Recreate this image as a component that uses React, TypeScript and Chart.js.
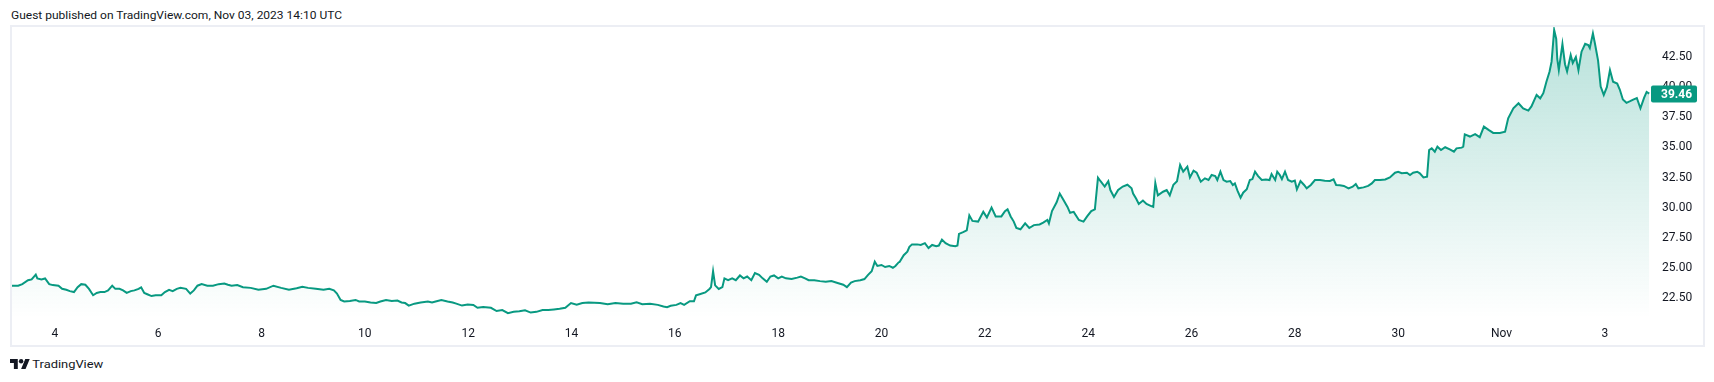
import React, { useEffect, useRef } from 'react';
import { Chart, registerables } from 'chart.js';

Chart.register(...registerables);

// Time positions in days of October 2023 (Nov 1 = 32, Nov 3 = 34)
const DAYS: number[] = [
  3.155, 3.29, 3.37, 3.48, 3.55, 3.63, 3.66, 3.74, 3.81, 3.89, 3.96, 4.07, 4.14, 4.22, 4.29, 4.37, 4.44, 4.51, 4.59, 4.66,
  4.74, 4.81, 4.88, 4.96, 5.03, 5.11, 5.17, 5.25, 5.32, 5.39, 5.47, 5.54, 5.62, 5.67, 5.73, 5.80, 5.87, 5.95, 6.06, 6.13,
  6.21, 6.28, 6.36, 6.43, 6.54, 6.62, 6.69, 6.76, 6.84, 6.95, 7.06, 7.17, 7.28, 7.35, 7.42, 7.53, 7.64, 7.79, 7.94, 8.09,
  8.23, 8.38, 8.53, 8.68, 8.79, 8.90, 9.05, 9.20, 9.31, 9.40, 9.46, 9.53, 9.60, 9.71, 9.82, 9.89, 10.00, 10.11, 10.22, 10.30,
  10.41, 10.52, 10.63, 10.71, 10.78, 10.85, 10.96, 11.08, 11.22, 11.30, 11.37, 11.48, 11.60, 11.70, 11.77, 11.88, 11.99, 12.10, 12.18, 12.29,
  12.44, 12.55, 12.66, 12.77, 12.88, 12.99, 13.10, 13.21, 13.32, 13.44, 13.55, 13.66, 13.77, 13.88, 13.99, 14.10, 14.21, 14.33,
  14.55, 14.70, 14.85, 15.00, 15.15, 15.26, 15.37, 15.52, 15.67, 15.78, 15.85, 15.92, 16.03, 16.11, 16.18, 16.29, 16.37, 16.41, 16.48, 16.59,
  16.67, 16.70, 16.74, 16.78, 16.85, 16.92, 16.96, 17.03, 17.11, 17.18, 17.26, 17.33, 17.40, 17.48, 17.55, 17.63, 17.70, 17.78, 17.85, 17.92,
  18.00, 18.07, 18.15, 18.26, 18.37, 18.44, 18.52, 18.59, 18.70, 18.81, 18.92, 19.03, 19.15, 19.26, 19.33, 19.41, 19.48, 19.59, 19.67, 19.74,
  19.81, 19.87, 19.92, 20.00, 20.07, 20.15, 20.22, 20.27, 20.33,
  20.35, 20.43, 20.50, 20.54, 20.59, 20.69, 20.76, 20.84, 20.91, 20.98, 21.06, 21.11, 21.17, 21.24, 21.33, 21.43, 21.47, 21.50, 21.58, 21.65,
  21.70, 21.76, 21.87, 21.97, 22.04, 22.13, 22.21, 22.32, 22.39, 22.44, 22.50, 22.56, 22.61, 22.69, 22.78, 22.86, 22.95, 23.06, 23.13, 23.21,
  23.24, 23.30, 23.39, 23.45, 23.52, 23.60, 23.65, 23.72, 23.82, 23.91, 23.98, 24.06, 24.13, 24.19, 24.24, 24.32, 24.39, 24.43, 24.50, 24.58,
  24.67, 24.76, 24.84, 24.87, 24.93, 24.98, 25.06, 25.13, 25.21, 25.26, 25.30, 25.35, 25.45, 25.52, 25.58, 25.65, 25.72,
  25.78, 25.84, 25.92, 25.97, 26.04, 26.10, 26.18, 26.26, 26.33, 26.39, 26.46, 26.50, 26.56, 26.62, 26.68, 26.75, 26.80, 26.84, 26.89, 26.95,
  27.00, 27.07, 27.13, 27.18, 27.23, 27.29, 27.36, 27.44, 27.51, 27.55, 27.62, 27.66, 27.71, 27.75, 27.81, 27.87, 27.94, 28.00, 28.04, 28.11,
  28.18, 28.23, 28.31, 28.39, 28.49, 28.58, 28.68, 28.75, 28.80, 28.87, 28.95, 29.04, 29.12, 29.18, 29.23, 29.33, 29.42, 29.49, 29.55, 29.65,
  29.75, 29.84, 29.94, 30.00, 30.07, 30.17, 30.23, 30.29, 30.37, 30.42, 30.49, 30.56, 30.60, 30.65, 30.71, 30.76, 30.83, 30.91, 31.00, 31.08,
  31.13, 31.23,
  31.26, 31.29, 31.39, 31.49, 31.58, 31.66, 31.75, 31.84, 31.97, 32.07, 32.13, 32.23, 32.33, 32.42, 32.52, 32.58, 32.68, 32.75, 32.81, 32.87,
  32.93, 32.97, 33.02, 33.06, 33.08, 33.11, 33.18, 33.23, 33.27, 33.34, 33.38, 33.44, 33.49, 33.55, 33.62, 33.68, 33.71, 33.77, 33.81, 33.87,
  33.92, 33.98, 34.04, 34.10, 34.16, 34.24, 34.29, 34.35, 34.42, 34.49, 34.55, 34.62, 34.69, 34.76, 34.81, 34.86,
];

const PRICES: number[] = [
  23.52, 23.52, 23.65, 23.97, 24.04, 24.44, 24.12, 24.04, 24.12, 23.65, 23.57, 23.52, 23.26, 23.18, 23.07, 22.99, 23.39, 23.65, 23.60, 23.26,
  22.73, 22.92, 22.99, 22.99, 23.13, 23.52, 23.26, 23.26, 23.13, 22.92, 23.07, 23.13, 23.26, 23.39, 22.92, 22.79, 22.66, 22.73, 22.73, 22.99,
  23.18, 23.07, 23.26, 23.34, 23.26, 22.87, 23.13, 23.52, 23.65, 23.52, 23.52, 23.65, 23.70, 23.60, 23.52, 23.57, 23.39, 23.34, 23.18, 23.26,
  23.52, 23.34, 23.18, 23.31, 23.44, 23.34, 23.26, 23.18, 23.26, 23.13, 22.87, 22.34, 22.21, 22.26, 22.34, 22.21, 22.21, 22.13, 22.08, 22.21,
  22.34, 22.26, 22.29, 22.13, 22.08, 21.87, 22.03, 22.13, 22.21, 22.13, 22.21, 22.34, 22.21, 22.13, 22.03, 21.87, 21.95, 21.92, 21.69, 21.76,
  21.69, 21.42, 21.50, 21.24, 21.35, 21.40, 21.48, 21.29, 21.35, 21.50, 21.50, 21.55, 21.61, 21.69, 22.08, 21.95, 22.08, 22.13,
  22.08, 21.99, 22.08, 22.02, 22.02, 22.14, 21.99, 22.02, 21.93, 21.79, 21.73, 21.85, 21.93, 22.08, 21.93, 22.23, 22.23, 22.72, 22.81, 22.96,
  23.25, 23.40, 24.72, 23.55, 23.25, 23.40, 24.13, 23.98, 24.13, 23.98, 24.37, 24.13, 24.28, 23.98, 24.57, 24.42, 24.13, 23.84, 24.28, 24.37,
  24.13, 24.28, 24.13, 24.07, 24.19, 24.28, 24.13, 23.98, 23.98, 23.90, 23.84, 23.90, 23.75, 23.60, 23.40, 23.78, 23.90, 23.98, 24.07, 24.42,
  24.72, 25.51, 25.16, 25.24, 25.07, 25.16, 25.01, 25.16, 25.45,
  25.49, 26.05, 26.35, 26.75, 26.95, 26.95, 26.90, 27.05, 26.65, 26.90, 26.80, 26.85, 27.35, 27.05, 26.85, 26.80, 26.85, 27.82, 27.96, 28.11,
  29.36, 28.90, 28.84, 29.65, 29.19, 30.00, 29.27, 29.27, 29.71, 29.86, 29.27, 28.84, 28.31, 28.20, 28.69, 28.31, 28.55, 28.60, 28.75, 28.98,
  28.69, 29.71, 30.44, 31.17, 30.65, 30.06, 29.57, 29.65, 28.98, 28.84, 29.27, 29.71, 29.86, 32.48, 32.19, 31.75, 32.19, 31.46, 30.88, 31.46,
  31.75, 31.90, 31.61, 31.17, 30.73, 30.30, 30.59, 30.30, 30.15, 30.06, 32.04, 31.02, 31.32, 31.46, 31.02, 31.90, 32.19,
  33.54, 32.98, 33.40, 32.51, 33.07, 32.90, 32.15, 32.43, 32.29, 32.71, 32.62, 32.29, 32.98, 32.29, 32.15, 32.21, 31.88, 32.01, 31.41, 30.82,
  31.24, 31.52, 32.29, 32.37, 32.98, 32.62, 32.29, 32.34, 32.29, 32.79, 32.29, 32.98, 32.71, 32.37, 32.98, 32.29, 32.15, 32.24, 31.52, 32.21,
  31.88, 31.60, 31.88, 32.29, 32.29, 32.24, 32.21, 32.34, 31.88, 31.85, 31.80, 31.60, 31.74, 31.96, 31.60, 31.68, 31.80, 32.01, 32.29, 32.29,
  32.34, 32.51, 32.90, 32.98, 32.85, 32.90, 32.71, 32.90, 32.98, 32.85, 32.51, 32.57, 34.78, 34.92, 34.64, 35.06, 34.78, 35.01, 34.84, 34.64,
  34.92, 34.98,
  35.06, 36.08, 35.90, 36.10, 35.85, 36.72, 36.45, 36.20, 36.20, 36.30, 37.41, 38.24, 38.66, 38.24, 38.05, 38.40, 39.35, 39.07, 39.50, 40.45,
  41.28, 42.11, 44.74, 44.00, 42.34, 41.42, 43.58, 41.90, 41.30, 42.67, 42.00, 42.50, 41.40, 42.94, 43.60, 43.50, 43.25, 44.46, 43.60, 42.20,
  40.04, 39.35, 40.00, 41.42, 40.45, 40.30, 39.80, 38.97, 38.70, 38.84, 38.97, 39.10, 38.24, 39.10, 39.60, 39.46,
];

const X_TICK_DAYS: number[] = [4, 6, 8, 10, 12, 14, 16, 18, 20, 22, 24, 26, 28, 30, 32, 34];
const X_TICK_LABELS: string[] = ['4', '6', '8', '10', '12', '14', '16', '18', '20', '22', '24', '26', '28', '30', 'Nov', '3'];
const Y_TICKS: number[] = [22.5, 25, 27.5, 30, 32.5, 35, 37.5, 40, 42.5];
const LAST_PRICE = 39.46;
const X_MIN = 3.17;
const X_MAX = 34.875;
const Y_MIN = 20.84;
const Y_MAX = 44.99;

const HEADER = 'Guest published on TradingView.com, Nov 03, 2023 14:10 UTC';
const FOOTER = 'TradingView';

const GREEN = '#089981';
const TEXT = '#131722';

export default function App() {
  const ref = useRef<HTMLCanvasElement | null>(null);

  useEffect(() => {
    const canvas = ref.current;
    if (!canvas) return;

    const lastPricePlugin = {
      id: 'lastPrice',
      afterDraw(chart: any) {
        const { ctx, chartArea, scales } = chart;
        const y = scales.y.getPixelForValue(LAST_PRICE);
        const x0 = chartArea.right + 1;
        ctx.save();
        ctx.fillStyle = GREEN;
        ctx.beginPath();
        if (ctx.roundRect) ctx.roundRect(x0, Math.round(y) - 8.5, 46, 17, 2);
        else ctx.rect(x0, Math.round(y) - 8.5, 46, 17);
        ctx.fill();
        ctx.fillStyle = '#ffffff';
        ctx.font = 'bold 12px Roboto';
        ctx.textAlign = 'left';
        ctx.textBaseline = 'middle';
        ctx.fillText(LAST_PRICE.toFixed(2), chartArea.right + 11, Math.round(y) + 0.5);
        ctx.restore();
      },
    };

    const chart = new Chart(canvas, {
      type: 'line',
      data: {
        datasets: [
          {
            data: DAYS.map((d, i) => ({ x: d, y: PRICES[i] })),
            borderColor: GREEN,
            borderWidth: 2,
            pointRadius: 0,
            tension: 0,
            fill: 'start',
            backgroundColor: (c: any) => {
              const area = c.chart.chartArea;
              if (!area) return 'rgba(8,153,129,0.1)';
              const g = c.chart.ctx.createLinearGradient(0, area.top, 0, area.bottom);
              g.addColorStop(0, 'rgba(8,153,129,0.29)');
              g.addColorStop(1, 'rgba(8,153,129,0.0)');
              return g;
            },
          },
        ],
      },
      options: {
        animation: false,
        responsive: false,
        maintainAspectRatio: false,
        devicePixelRatio: 1,
        layout: { padding: 0 },
        plugins: { legend: { display: false }, tooltip: { enabled: false } },
        scales: {
          x: {
            type: 'linear',
            min: X_MIN,
            max: X_MAX,
            grid: { display: false, drawTicks: false },
            border: { display: false },
            ticks: {
              autoSkip: false,
              maxRotation: 0,
              padding: 9,
              color: TEXT,
              font: { family: 'Roboto', size: 12 },
              callback: (v: any) => {
                const i = X_TICK_DAYS.indexOf(Number(v));
                return i >= 0 ? X_TICK_LABELS[i] : '';
              },
            },
            afterBuildTicks: (s: any) => {
              s.ticks = X_TICK_DAYS.map((v) => ({ value: v }));
            },
            afterFit: (s: any) => {
              s.height = 27;
              s.paddingLeft = 0;
              s.paddingRight = 0;
            },
          },
          y: {
            type: 'linear',
            position: 'right',
            min: Y_MIN,
            max: Y_MAX,
            grid: { display: false, drawTicks: false },
            border: { display: false },
            ticks: {
              padding: 12,
              color: TEXT,
              font: { family: 'Roboto', size: 12 },
              callback: (v: any) => Number(v).toFixed(2),
            },
            afterBuildTicks: (s: any) => {
              s.ticks = Y_TICKS.map((v) => ({ value: v }));
            },
            afterFit: (s: any) => {
              s.width = 53;
              s.paddingTop = 0;
              s.paddingBottom = 0;
            },
          },
        },
      },
      plugins: [lastPricePlugin],
    } as any);

    return () => chart.destroy();
  }, []);

  return (
    <div style={{ position: 'absolute', left: 0, top: 0, width: 1714, height: 382, background: '#ffffff', overflow: 'hidden' }}>
      <svg style={{ position: 'absolute', left: 0, top: 0 }} width={420} height={24}>
        <text x={11} y={19} fontFamily="Roboto" fontSize={11} fill={TEXT} textLength={331} lengthAdjust="spacingAndGlyphs">
          {HEADER}
        </text>
      </svg>
      <div
        style={{
          position: 'absolute',
          left: 10,
          top: 25,
          width: 1695,
          height: 322,
          border: '2px solid #eceef4',
          boxSizing: 'border-box',
        }}
      />
      <canvas ref={ref} width={1691} height={318} style={{ position: 'absolute', left: 12, top: 27, width: 1691, height: 318 }} />
      <svg style={{ position: 'absolute', left: 10, top: 358.5 }} width={20} height={10} viewBox="0 4 36 18" preserveAspectRatio="none">
        <path d="M14 22H7V11H0V4h14v18zM28 22h-8l7.5-18h8L28 22z" fill={TEXT} />
        <circle cx={20} cy={8} r={4} fill={TEXT} />
      </svg>
      <svg style={{ position: 'absolute', left: 0, top: 350 }} width={140} height={30}>
        <text x={32.3} y={17.8} fontFamily="Roboto" fontSize={11.5} fill={TEXT} textLength={71} lengthAdjust="spacingAndGlyphs">
          {FOOTER}
        </text>
      </svg>
    </div>
  );
}
